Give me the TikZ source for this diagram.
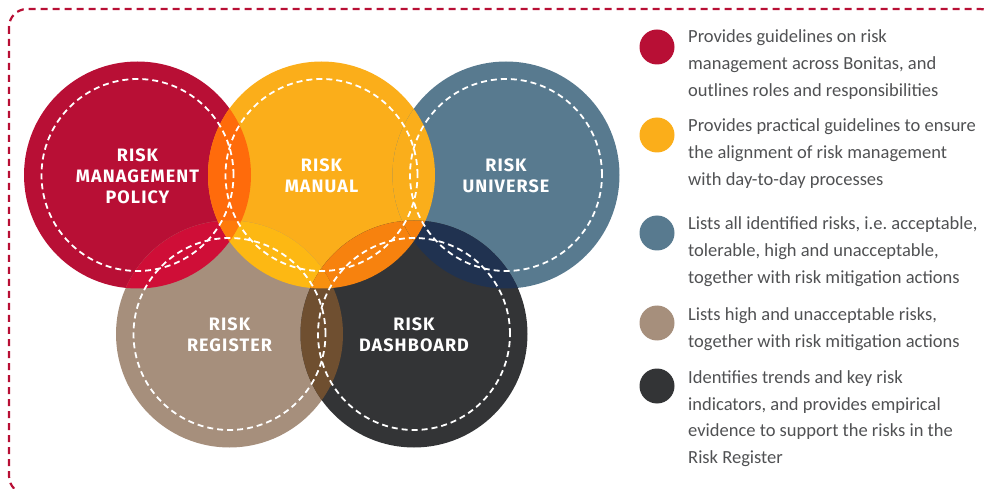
\documentclass[tikz,border=0pt]{standalone}
\usepackage{fontspec}
\setmainfont{Carlito}
\newfontfamily\labelfont[LetterSpace=6]{Fira Sans}
\definecolor{cred}{HTML}{B80F35}
\definecolor{cyel}{HTML}{FBAE1A}
\definecolor{cblu}{HTML}{587A8F}
\definecolor{cbei}{HTML}{A68F7C}
\definecolor{cdrk}{HTML}{333436}
\definecolor{ory}{HTML}{FF6B0B}
\definecolor{org}{HTML}{CF0E37}
\definecolor{oyg}{HTML}{FDB813}
\definecolor{oyd}{HTML}{F7820E}
\definecolor{oyb}{HTML}{FAAE1B}
\definecolor{obd}{HTML}{203250}
\definecolor{ogd}{HTML}{6F4F30}
\definecolor{oryg}{HTML}{FE7A0B}
\definecolor{oygd}{HTML}{F8900F}
\definecolor{legendgray}{HTML}{505153}
\definecolor{framered}{HTML}{B80F35}
\newcommand\myR{113.5pt}
\newcommand\ovl[3]{\begin{scope}\clip (#1) circle[radius=\myR];\fill[#3] (#2) circle[radius=\myR];\end{scope}}
\newcommand\ovlt[4]{\begin{scope}\clip (#1) circle[radius=\myR];\clip (#2) circle[radius=\myR];\fill[#4] (#3) circle[radius=\myR];\end{scope}}
\tikzset{
  ring/.style={draw=white, line width=1.8pt, dash pattern=on 6pt off 4pt},
  circlabel/.style={text=white, font=\labelfont\bfseries\fontsize{18}{21}\selectfont, align=center, inner sep=0pt},
  legdot/.style={circle, fill=#1, minimum size=35pt, inner sep=0pt},
  legtext/.style={anchor=base west, inner sep=0pt, text=legendgray},
  frameline/.style={draw=framered, line width=2.2pt, dash pattern=on 7pt off 5pt, rounded corners=18pt}
}
\newcommand\legpar[1]{\parbox[t]{320pt}{\fontsize{18.5}{27}\selectfont\raggedright #1}}
\begin{document}
\begin{tikzpicture}[x=1pt,y=-1pt]
\useasboundingbox (0,0) rectangle (986,489);
\draw[frameline] (9,9) rectangle (998,494);
\coordinate (cR) at (137.5,175);
\coordinate (cY) at (321.5,175);
\coordinate (cB) at (506,175);
\coordinate (cG) at (229.5,334);
\coordinate (cD) at (414,334);
\fill[cred] (cR) circle[radius=\myR];
\fill[cyel] (cY) circle[radius=\myR];
\fill[cblu] (cB) circle[radius=\myR];
\fill[cbei] (cG) circle[radius=\myR];
\fill[cdrk] (cD) circle[radius=\myR];
\ovl{cR}{cY}{ory}
\ovl{cR}{cG}{org}
\ovl{cY}{cG}{oyg}
\ovl{cY}{cD}{oyd}
\ovl{cY}{cB}{oyb}
\ovl{cB}{cD}{obd}
\ovl{cG}{cD}{ogd}
\ovlt{cR}{cY}{cG}{oryg}
\ovlt{cY}{cG}{cD}{oygd}
\ovlt{cY}{cB}{cD}{oyd}
\foreach \c in {cR,cY,cB,cG,cD} \draw[ring] (\c) circle[radius=96pt];
\node[circlabel] (lR) at (137.5,176) {RISK\\MANAGEMENT\\POLICY};
\node[circlabel] (lY) at (321.5,176) {RISK\\MANUAL};
\node[circlabel] (lB) at (506,176) {RISK\\UNIVERSE};
\node[circlabel] (lG) at (229.5,335) {RISK\\REGISTER};
\node[circlabel] (lD) at (414,335) {RISK\\DASHBOARD};
\node[legdot=cred] (dR) at (657,47) {};
\node[legdot=cyel] (dY) at (657,135) {};
\node[legdot=cblu] (dB) at (657,233) {};
\node[legdot=cbei] (dG) at (657,323) {};
\node[legdot=cdrk] (dD) at (657,386) {};
\node[legtext] (tR) at (688,43) {\legpar{Provides guidelines on risk\\management across Bonitas, and\\outlines roles and responsibilities}};
\node[legtext] (tY) at (688,132) {\legpar{Provides practical guidelines to ensure\\the alignment of risk management\\with day-to-day processes}};
\node[legtext] (tB) at (688,230) {\legpar{Lists all identified risks, i.e.\ acceptable,\\tolerable, high and unacceptable,\\together with risk mitigation actions}};
\node[legtext] (tG) at (688,320) {\legpar{Lists high and unacceptable risks,\\together with risk mitigation actions}};
\node[legtext] (tD) at (688,383) {\legpar{Identifies trends and key risk\\indicators, and provides empirical\\evidence to support the risks in the\\Risk Register}};
\end{tikzpicture}
\end{document}
